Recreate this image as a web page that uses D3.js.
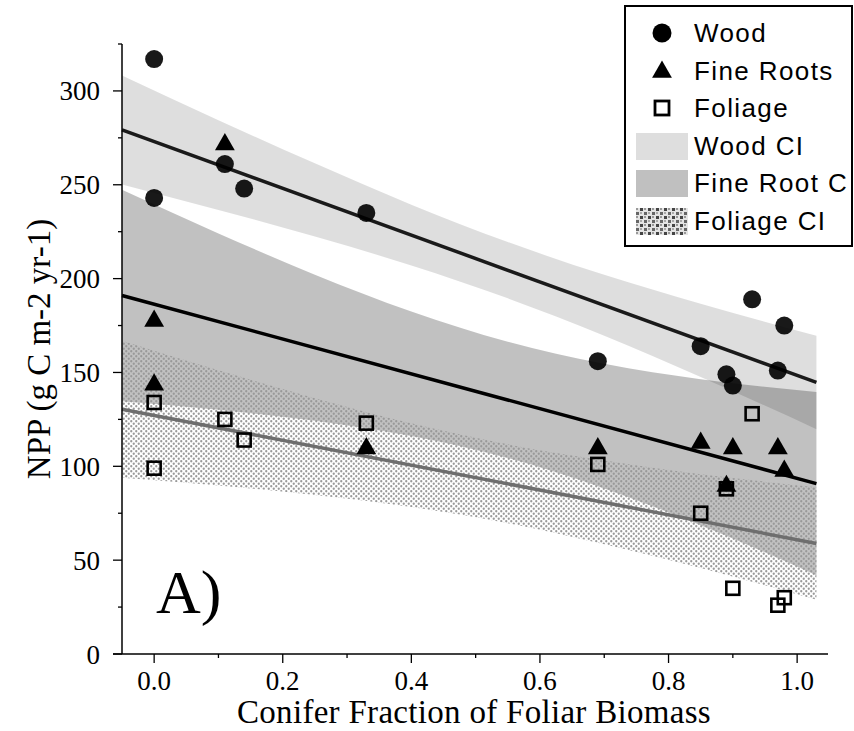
<!DOCTYPE html>
<html><head><meta charset="utf-8">
<script src="https://cdn.jsdelivr.net/npm/d3@7"></script>
<style>body{margin:0;background:#fff}svg{display:block}</style>
</head><body>
<svg id="c" width="854" height="731"></svg>
<script>
// ---- data ----
const woodX    = [0, 0, 0.11, 0.14, 0.33, 0.69, 0.85, 0.89, 0.90, 0.93, 0.97, 0.98];
const woodY    = [317, 243, 261, 248, 235, 156, 164, 149, 143, 189, 151, 175];
const rootX    = [0, 0, 0.11, 0.33, 0.69, 0.85, 0.89, 0.90, 0.97, 0.98];
const rootY    = [178, 144, 272, 110, 110, 113, 90, 110, 110, 98];
const foliageX = [0, 0, 0.11, 0.14, 0.33, 0.69, 0.85, 0.89, 0.90, 0.93, 0.97, 0.98];
const foliageY = [134, 99, 125, 114, 123, 101, 75, 88, 35, 128, 26, 30];

const fitX        = [-0.05, 1.03];
const woodFit     = [279.2, 144.7];
const rootFit     = [191.0, 90.8];
const foliageFit  = [130.4, 58.9];

const bandX        = [-0.05, 0.1, 0.25, 0.4, 0.55, 0.7, 0.85, 1.03];
const woodLower    = [250.2, 236.6, 222.4, 207.0, 189.5, 169.6, 147.6, 119.8];
const woodUpper    = [308.2, 284.4, 261.4, 239.4, 219.5, 202.0, 186.6, 169.6];
const rootLower    = [134.6, 130.1, 124.3, 116.1, 104.4, 88.2, 68.6, 42.0];
const rootUpper    = [247.4, 224.1, 202.1, 182.5, 166.4, 154.6, 146.4, 139.6];
const foliageLower = [93.9, 89.8, 84.7, 78.3, 69.7, 58.5, 45.8, 28.9];
const foliageUpper = [166.9, 151.2, 136.3, 122.9, 111.7, 103.1, 95.8, 88.9];

const xMajor = [0, 0.2, 0.4, 0.6, 0.8, 1.0];
const xMinor = [0.1, 0.3, 0.5, 0.7, 0.9];
const yMajor = [0, 50, 100, 150, 200, 250, 300];
const yMinor = [25, 75, 125, 175, 225, 275, 325];

const legendLabels = ["Wood", "Fine Roots", "Foliage", "Wood CI", "Fine Root C", "Foliage CI"];

// ---- drawing ----
const svg = d3.select("#c");
const x = d3.scaleLinear().domain([-0.05, 1.048]).range([122, 828]);
const y = d3.scaleLinear().domain([0, 325]).range([654, 44]);

const defs = svg.append("defs");
const pat = defs.append("pattern").attr("id", "stip").attr("patternUnits", "userSpaceOnUse")
  .attr("width", 5).attr("height", 5);
pat.append("circle").attr("cx", 1.25).attr("cy", 1.25).attr("r", 1.15).attr("fill", "#999");
pat.append("circle").attr("cx", 3.75).attr("cy", 3.75).attr("r", 1.15).attr("fill", "#999");
const pat2 = defs.append("pattern").attr("id", "stipL").attr("patternUnits", "userSpaceOnUse")
  .attr("width", 8).attr("height", 8);
pat2.append("rect").attr("width", 8).attr("height", 8).attr("fill", "#e4e4e4");
pat2.append("rect").attr("x", 0).attr("y", 0).attr("width", 3).attr("height", 3).attr("fill", "#444");
pat2.append("rect").attr("x", 4).attr("y", 4).attr("width", 3).attr("height", 3).attr("fill", "#666");
pat2.append("rect").attr("x", 4).attr("y", 0).attr("width", 2).attr("height", 2).attr("fill", "#999");
pat2.append("rect").attr("x", 0).attr("y", 4).attr("width", 2).attr("height", 2).attr("fill", "#aaa");

function band(lo, hi) {
  return d3.area().curve(d3.curveMonotoneX)
    .x((d, i) => x(bandX[i])).y0((d, i) => y(lo[i])).y1((d, i) => y(hi[i]))(bandX);
}
svg.append("path").attr("d", band(woodLower, woodUpper)).attr("fill", "#000").attr("fill-opacity", 0.13);
svg.append("path").attr("d", band(rootLower, rootUpper)).attr("fill", "#000").attr("fill-opacity", 0.245);
svg.append("path").attr("d", band(foliageLower, foliageUpper)).attr("fill", "url(#stip)");

function fit(vals, col) {
  svg.append("line").attr("x1", x(fitX[0])).attr("x2", x(fitX[1]))
    .attr("y1", y(vals[0])).attr("y2", y(vals[1]))
    .attr("stroke", col).attr("stroke-width", 3.5);
}
fit(woodFit, "#1a1a1a");
fit(rootFit, "#000");
fit(foliageFit, "#6e6e6e");

// points
svg.append("g").selectAll("circle").data(woodX).join("circle")
  .attr("cx", d => x(d)).attr("cy", (d, i) => y(woodY[i])).attr("r", 9)
  .attr("fill", "#000").attr("fill-opacity", 0.9);
const tri = d3.symbol().type(d3.symbolTriangle).size(170);
svg.append("g").selectAll("path").data(rootX).join("path")
  .attr("d", tri).attr("transform", (d, i) => `translate(${x(d)},${y(rootY[i]) + 1})`)
  .attr("fill", "#000");
svg.append("g").selectAll("rect").data(foliageX).join("rect")
  .attr("x", d => x(d) - 6.5).attr("y", (d, i) => y(foliageY[i]) - 6.5)
  .attr("width", 13).attr("height", 13)
  .attr("fill", "none").attr("stroke", "#000").attr("stroke-width", 2.6);

// axes
const ax = svg.append("g").attr("font-family", "'Liberation Serif', 'Times New Roman', serif").attr("fill", "#000");
ax.append("line").attr("x1", 113).attr("x2", 828).attr("y1", 654).attr("y2", 654).attr("stroke", "#000").attr("stroke-width", 1.5);
ax.append("line").attr("x1", 122).attr("x2", 122).attr("y1", 44).attr("y2", 654).attr("stroke", "#000").attr("stroke-width", 1.5);
xMajor.forEach(v => {
  ax.append("line").attr("x1", x(v)).attr("x2", x(v)).attr("y1", 654).attr("y2", 663).attr("stroke", "#000").attr("stroke-width", 1.3);
  ax.append("text").attr("x", x(v)).attr("y", 690).attr("text-anchor", "middle").attr("font-size", 27).text(d3.format(".1f")(v));
});
xMinor.forEach(v => {
  ax.append("line").attr("x1", x(v)).attr("x2", x(v)).attr("y1", 654).attr("y2", 658).attr("stroke", "#000").attr("stroke-width", 1.3);
});
yMajor.forEach(v => {
  ax.append("line").attr("x1", 113).attr("x2", 122).attr("y1", y(v)).attr("y2", y(v)).attr("stroke", "#000").attr("stroke-width", 1.3);
  ax.append("text").attr("x", 100).attr("y", y(v) + 9.5).attr("text-anchor", "end").attr("font-size", 27).text(v);
});
yMinor.forEach(v => {
  ax.append("line").attr("x1", 118).attr("x2", 122).attr("y1", y(v)).attr("y2", y(v)).attr("stroke", "#000").attr("stroke-width", 1.3);
});
ax.append("text").attr("x", 474).attr("y", 723).attr("text-anchor", "middle").attr("font-size", 33)
  .attr("letter-spacing", 0.3)
  .text("Conifer Fraction of Foliar Biomass");
ax.append("text").attr("transform", "translate(50,349) rotate(-90)").attr("text-anchor", "middle").attr("font-size", 33)
  .text("NPP (g C m-2 yr-1)");
ax.append("text").attr("x", 156).attr("y", 613).attr("font-size", 62).text("A)");

// legend
const lg = svg.append("g");
lg.append("rect").attr("x", 625).attr("y", 6).attr("width", 227).attr("height", 240)
  .attr("fill", "#fff").attr("stroke", "#000").attr("stroke-width", 2);
const rowY = [33, 71, 108, 146, 183, 221];
lg.append("circle").attr("cx", 662).attr("cy", rowY[0]).attr("r", 9.5).attr("fill", "#000");
lg.append("path").attr("d", tri).attr("transform", `translate(662,${rowY[1] + 1})`).attr("fill", "#000");
lg.append("rect").attr("x", 655).attr("y", rowY[2] - 7).attr("width", 14).attr("height", 14)
  .attr("fill", "none").attr("stroke", "#000").attr("stroke-width", 2.8);
lg.append("rect").attr("x", 636).attr("y", rowY[3] - 13).attr("width", 52).attr("height", 27).attr("fill", "#dedede");
lg.append("rect").attr("x", 636).attr("y", rowY[4] - 13).attr("width", 52).attr("height", 27).attr("fill", "#c0c0c0");
lg.append("rect").attr("x", 636).attr("y", rowY[5] - 13).attr("width", 52).attr("height", 27).attr("fill", "url(#stipL)");
legendLabels.forEach((t, i) => {
  lg.append("text").attr("x", 694).attr("y", rowY[i] + 9).attr("font-family", "'Liberation Sans', Arial, sans-serif")
    .attr("font-size", 26).attr("letter-spacing", 1.4).attr("fill", "#000").text(t);
});
</script>
</body></html>
